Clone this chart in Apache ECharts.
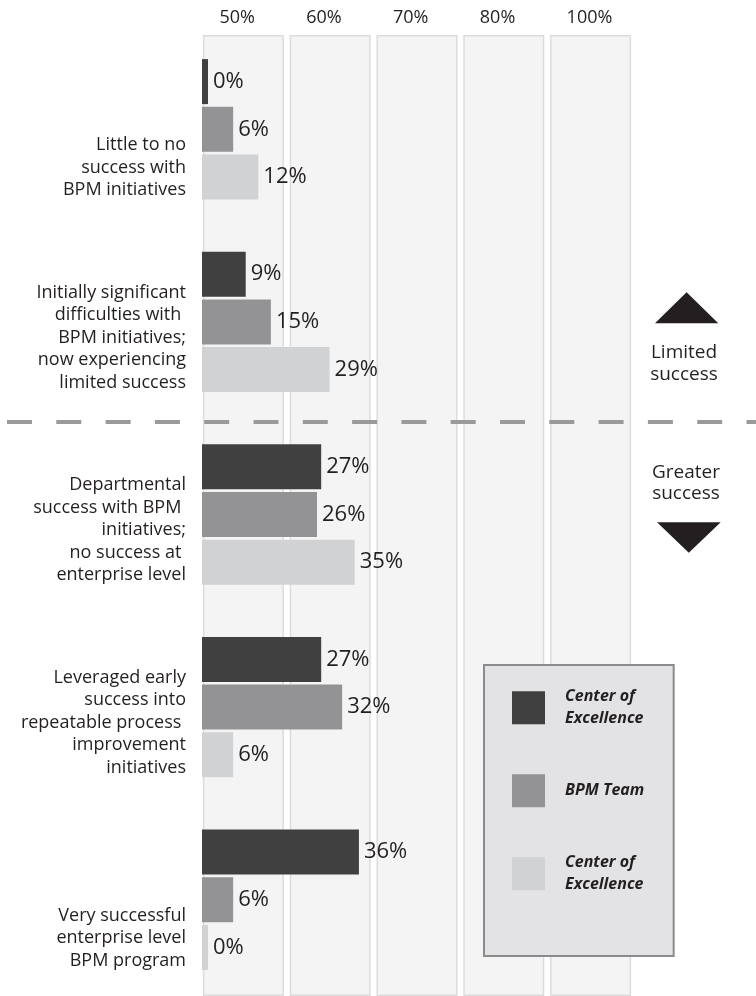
<!DOCTYPE html>
<html>
<head>
<meta charset="utf-8">
<script src="https://cdn.jsdelivr.net/npm/echarts@6/dist/echarts.min.js"></script>
<style>
  html, body { margin: 0; padding: 0; background: #ffffff; }
  #chart { width: 756px; height: 996px; }
</style>
</head>
<body>
<div id="chart"></div>
<script>
// ---- data ----
const categories = [
  'Little to no\nsuccess with\nBPM initiatives',
  'Initially significant\ndifficulties with \nBPM initiatives;\nnow experiencing\nlimited success',
  'Departmental\nsuccess with BPM \ninitiatives;\nno success at \nenterprise level',
  'Leveraged early\nsuccess into\nrepeatable process \nimprovement\ninitiatives',
  'Very successful\nenterprise level\nBPM program'
];
const seriesNames = ['Center of\nExcellence', 'BPM Team', 'Center of\nExcellence '];
const coeValues = [0, 9, 27, 27, 36];
const bpmValues = [6, 15, 26, 32, 6];
const coe2Values = [12, 29, 35, 6, 0];
const columnLabels = ['50%', '60%', '70%', '80%', '100%'];
const columnValues = [1, 1, 1, 1, 1];
const sideLabelTop = 'Limited\nsuccess';
const sideLabelBottom = 'Greater\nsuccess';

const colors = ['#404040', '#939396', '#d1d2d4'];
const textColor = '#231f20';
const FONT = '"Open Sans", "Noto Sans", sans-serif';

const chart = echarts.init(document.getElementById('chart'), null, { renderer: 'canvas' });

function barSeries(name, data, color) {
  return {
    name: name,
    type: 'bar',
    xAxisIndex: 0,
    yAxisIndex: 0,
    data: data,
    barWidth: 45,
    barGap: '6%',
    z: 5,
    itemStyle: { color: color },
    label: {
      show: true,
      position: 'right',
      distance: 5,
      formatter: '{c}%',
      fontSize: 22,
      color: textColor,
      fontFamily: FONT
    },
    emphasis: { disabled: true }
  };
}

const option = {
  animation: false,
  backgroundColor: '#ffffff',
  textStyle: { fontFamily: FONT, color: textColor },
  grid: [
    { left: 202, top: 33, width: 551, height: 970, containLabel: false },
    { left: 200, top: 35, width: 434, height: 970, containLabel: false }
  ],
  xAxis: [
    { gridIndex: 0, type: 'value', min: -1.43, max: 130, startValue: -1.43, show: false },
    {
      gridIndex: 1, type: 'category', data: columnLabels, position: 'top',
      axisLine: { show: false }, axisTick: { show: false }, splitLine: { show: false },
      axisLabel: {
        fontSize: 18, lineHeight: 18, color: textColor, margin: 8,
        align: 'left', padding: [0, 0, 0, -24], fontFamily: FONT
      }
    }
  ],
  yAxis: [
    {
      gridIndex: 0, type: 'category', data: categories, inverse: true,
      axisLine: { show: false }, axisTick: { show: false }, splitLine: { show: false },
      axisLabel: {
        interval: 0, fontSize: 18, lineHeight: 22.5, color: textColor,
        align: 'right', verticalAlign: 'bottom', padding: [0, 0, -72, 0],
        margin: 16, fontFamily: FONT
      }
    },
    { gridIndex: 1, type: 'value', min: 0, max: 1, show: false }
  ],
  legend: {
    orient: 'vertical',
    left: 484,
    top: 665,
    itemWidth: 33,
    itemHeight: 33,
    itemGap: 44.8,
    icon: 'rect',
    backgroundColor: '#e3e3e5',
    borderColor: '#8b8b8d',
    borderWidth: 2,
    borderRadius: 0,
    padding: [21, 26, 60.6, 28],
    selectedMode: false,
    data: seriesNames,
    textStyle: {
      fontSize: 16, fontWeight: 'bold', fontStyle: 'italic', color: textColor,
      lineHeight: 21.7, padding: [0, 0, 0, 15], width: 80, fontFamily: FONT
    }
  },
  series: [
    {
      name: 'columns',
      type: 'bar',
      xAxisIndex: 1,
      yAxisIndex: 1,
      data: columnValues,
      barWidth: 81,
      z: 1,
      silent: true,
      itemStyle: { color: '#f4f4f4', borderColor: '#dcdcdc', borderWidth: 1.5 },
      emphasis: { disabled: true }
    },
    barSeries(seriesNames[0], coeValues, colors[0]),
    barSeries(seriesNames[1], bpmValues, colors[1]),
    barSeries(seriesNames[2], coe2Values, colors[2])
  ],
  graphic: [
    {
      type: 'line', z: 10, silent: true,
      shape: { x1: 7, y1: 422, x2: 760, y2: 422 },
      style: { stroke: '#9a9a9c', lineWidth: 4, lineDash: [25, 24.3] }
    },
    {
      type: 'polygon', z: 10, silent: true,
      shape: { points: [[655, 323.3], [686.6, 292.3], [718.3, 323.3]] },
      style: { fill: textColor }
    },
    {
      type: 'text', z: 10, silent: true,
      x: 684, y: 363.5,
      style: {
        text: sideLabelTop, fill: textColor, font: '19px ' + FONT,
        lineHeight: 21.6, align: 'center', verticalAlign: 'middle'
      }
    },
    {
      type: 'text', z: 10, silent: true,
      x: 686, y: 483,
      style: {
        text: sideLabelBottom, fill: textColor, font: '19px ' + FONT,
        lineHeight: 21.6, align: 'center', verticalAlign: 'middle'
      }
    },
    {
      type: 'polygon', z: 10, silent: true,
      shape: { points: [[657, 522.3], [720.7, 522.3], [688.8, 552.7]] },
      style: { fill: textColor }
    }
  ]
};

chart.setOption(option);
</script>
</body>
</html>
